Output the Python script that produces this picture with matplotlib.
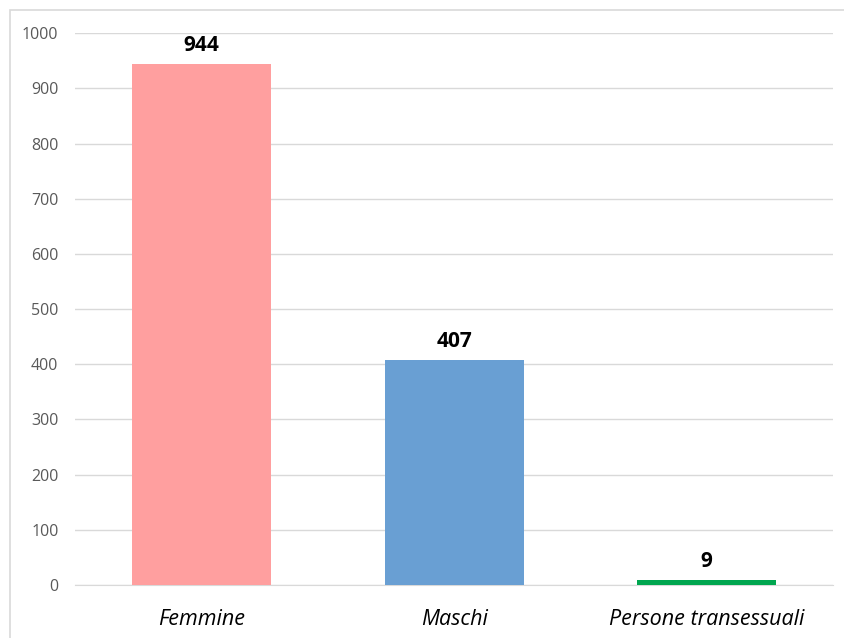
import matplotlib.pyplot as plt
from matplotlib.patches import Rectangle

# Dati per genere
categories = ['Femmine', 'Maschi', 'Persone transessuali']
values = [944, 407, 9]
colors = ['#FF9F9F', '#699FD3', '#00A64F']
yticks = [0, 100, 200, 300, 400, 500, 600, 700, 800, 900, 1000]

plt.rcParams['font.family'] = ['Open Sans', 'DejaVu Sans']

fig = plt.figure(figsize=(8.44, 6.38), dpi=100)
ax = fig.add_axes([0.089, 0.083, 0.898, 0.865])

# Bordo del grafico (solo lati sinistro e superiore visibili)
fig.patches.append(Rectangle((9.5 / 844, -0.1), 1.2, 1 - 10.5 / 638 + 0.1,
                             transform=fig.transFigure, fill=False,
                             edgecolor='#D9D9D9', linewidth=1.2))

x = range(len(categories))
ax.bar(x, values, width=0.55, color=colors, zorder=3)

for xi, v in zip(x, values):
    ax.text(xi, v + 15, str(v), ha='center', va='bottom',
            fontsize=15, fontweight='bold', color='black')

ax.set_xlim(-0.5, 2.5)
ax.set_ylim(0, 1000)
ax.set_yticks(yticks)
ax.set_xticks(list(x))
ax.set_xticklabels(categories, fontsize=15.5, style='italic', color='black')
ax.tick_params(axis='y', labelsize=11.5, labelcolor='#595959', length=0, pad=12)
ax.tick_params(axis='x', length=0, pad=17)

ax.grid(axis='y', color='#D9D9D9', linewidth=1, zorder=0)
for s in ['top', 'right', 'left']:
    ax.spines[s].set_visible(False)
ax.spines['bottom'].set_color('#D9D9D9')

plt.savefig('out.png', dpi=100)
